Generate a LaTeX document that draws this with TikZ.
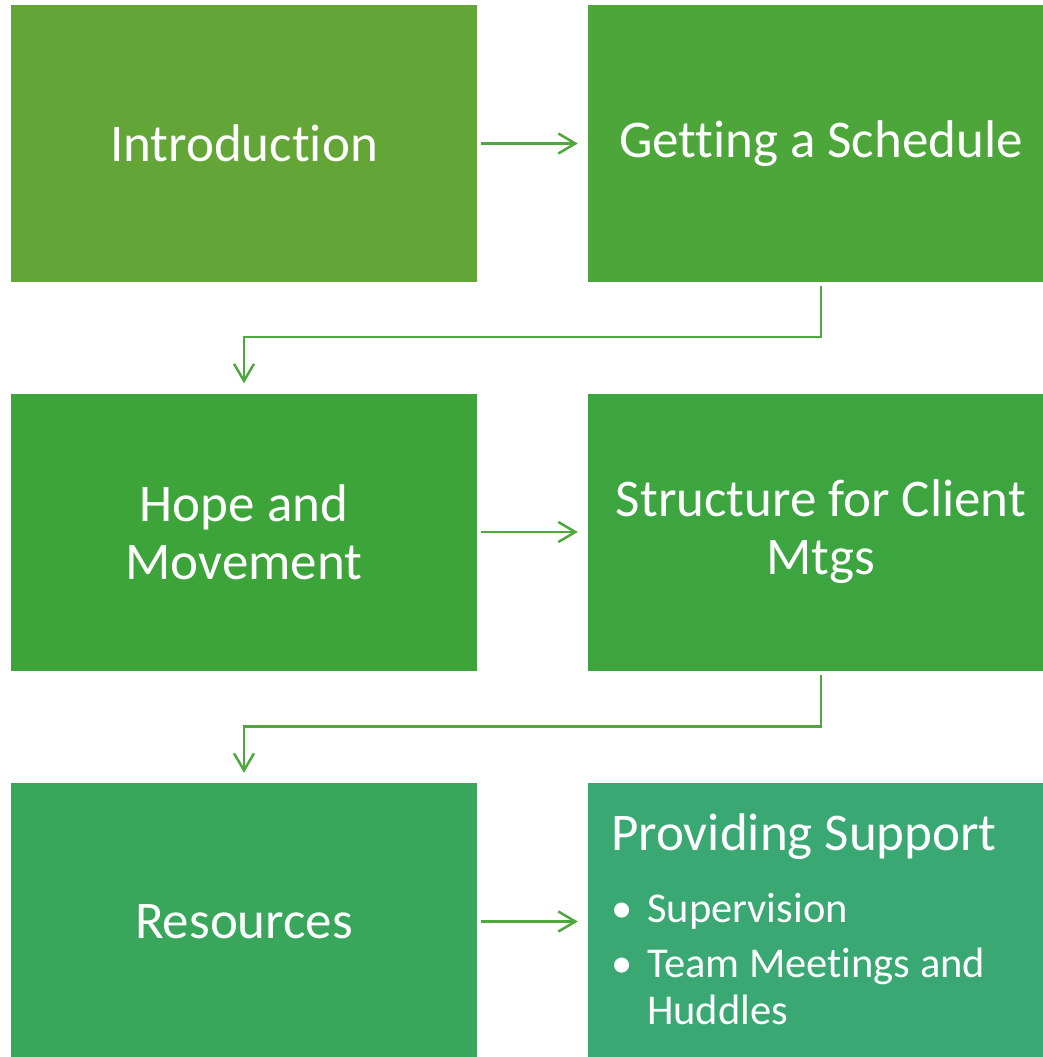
\documentclass[tikz,border=0pt]{standalone}
\usepackage{fontspec}
\setmainfont{Carlito}[Ligatures=NoCommon]
\usetikzlibrary{arrows.meta}
\definecolor{cIntro}{RGB}{99,165,55}
\definecolor{cSched}{RGB}{76,166,58}
\definecolor{cHope}{RGB}{61,164,58}
\definecolor{cStruct}{RGB}{60,165,64}
\definecolor{cRes}{RGB}{56,166,91}
\definecolor{cSupp}{RGB}{58,168,115}
\definecolor{cFlow}{RGB}{80,167,62}
\begin{document}
\begin{tikzpicture}[x=1pt,y=-1pt,
  stepbox/.style={fill=#1, minimum width=466pt, minimum height=277pt,
    inner sep=0pt, text=white, align=center,
    font=\fontsize{53}{58}\selectfont},
  flow/.style={draw=cFlow, line width=2.5pt,
    -{Straight Barb[length=17pt,width=20pt]},
    shorten <=4pt, shorten >=10pt},
  itemtext/.style={anchor=base west, inner sep=0pt, text=white,
    font=\fontsize{42.5}{48}\selectfont}]
\useasboundingbox (0,0) rectangle (1043,1057);

% the six stages
\node[stepbox=cIntro]  (intro)  at (244,143.5) {Introduction};
\node[stepbox=cSched]  (sched)  at (821,143.5) {Getting a Schedule};
\node[stepbox=cHope]   (hope)   at (244,532)   {Hope and\\Movement};
\node[stepbox=cStruct] (struct) at (821,532)   {Structure for Client\\Mtgs};
\node[stepbox=cRes]    (res)    at (244,921.5) {Resources};
\node[stepbox=cSupp]   (supp)   at (821,921.5) {};

% contents of the last stage
\node[anchor=base west, inner sep=0pt, text=white,
  font=\fontsize{53}{58}\selectfont] (supptitle) at (611,850) {Providing Support};
\node[itemtext] (b1) at (611,922) {•};
\node[itemtext] (i1) at (647,922) {Supervision};
\node[itemtext] (b2) at (611,977) {•};
\node[itemtext] (i2) at (647,977) {Team Meetings and};
\node[itemtext] (i3) at (647,1024) {Huddles};

% connectors
\draw[flow] (intro) -- (sched);
\draw[flow] (hope) -- (struct);
\draw[flow] (res) -- (supp);
\draw[flow] (sched.south) -- ++(0,55) -| (hope.north);
\draw[flow] (struct.south) -- ++(0,56) -| (res.north);
\end{tikzpicture}
\end{document}
